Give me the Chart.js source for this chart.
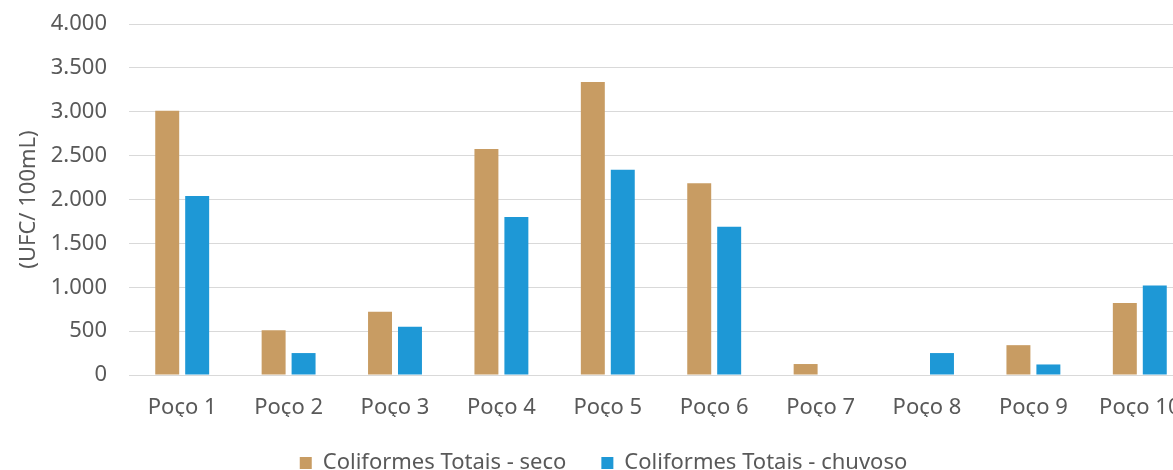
<!DOCTYPE html>
<html>
<head>
<meta charset="utf-8">
<script src="https://cdn.jsdelivr.net/npm/chart.js@4/dist/chart.umd.min.js"></script>
<style>
  html, body { margin: 0; padding: 0; background: #ffffff; overflow: hidden; }
  #wrap { position: relative; width: 1210px; height: 484px; }
</style>
</head>
<body>
<div id="wrap"><canvas id="chart"></canvas></div>
<script>
// Coliformes totais por poço, período seco x chuvoso
const categories = ['Poço 1', 'Poço 2', 'Poço 3', 'Poço 4', 'Poço 5',
                    'Poço 6', 'Poço 7', 'Poço 8', 'Poço 9', 'Poço 10'];
const seriesNames = ['Coliformes Totais - seco', 'Coliformes Totais - chuvoso'];
const seco = [3010, 510, 720, 2575, 3340, 2185, 125, 0, 340, 820];
const chuvoso = [2040, 250, 550, 1800, 2340, 1690, 0, 250, 120, 1020];
const yTickValues = [0, 500, 1000, 1500, 2000, 2500, 3000, 3500, 4000];
const yTickLabels = ['0', '500', '1.000', '1.500', '2.000', '2.500', '3.000', '3.500', '4.000'];
const yAxisTitle = '(UFC/ 100mL)';

const TEXT = '#595959';
const GRID = '#d9d9d9';

Chart.defaults.font.family = "'Noto Sans', 'Open Sans', sans-serif";
Chart.defaults.font.size = 22;
Chart.defaults.color = TEXT;

new Chart(document.getElementById('chart'), {
  type: 'bar',
  data: {
    labels: categories,
    datasets: [
      { label: seriesNames[0], data: seco, backgroundColor: '#c89c63', borderWidth: 0 },
      { label: seriesNames[1], data: chuvoso, backgroundColor: '#1e98d6', borderWidth: 0 }
    ]
  },
  options: {
    responsive: true,
    maintainAspectRatio: false,
    animation: false,
    events: [],
    layout: { padding: { top: 24, right: 17, bottom: 0, left: 14 } },
    datasets: {
      bar: { categoryPercentage: 0.563, barPercentage: 0.8 }
    },
    scales: {
      x: {
        grid: { display: false, drawTicks: false },
        border: { display: true, color: GRID, width: 1 },
        ticks: { padding: 20, maxRotation: 0, autoSkip: false },
        afterFit: (scale) => { scale.height = 42; }
      },
      y: {
        min: 0,
        max: 4000,
        afterBuildTicks: (scale) => { scale.ticks = yTickValues.map(v => ({ value: v })); },
        ticks: {
          padding: 22,
          callback: (value) => {
            const i = yTickValues.indexOf(value);
            return i >= 0 ? yTickLabels[i] : '';
          }
        },
        grid: { color: GRID, lineWidth: 1, drawTicks: false },
        border: { display: false },
        title: {
          display: true,
          text: yAxisTitle,
          padding: { top: 2, bottom: 0 },
          font: { size: 22 }
        },
        afterFit: (scale) => {
          scale.width = 115;
          // keep the plot top/bottom driven by the layout padding only
          scale.paddingTop = 0;
          scale.paddingBottom = 0;
        }
      }
    },
    plugins: {
      tooltip: { enabled: false },
      legend: {
        position: 'bottom',
        labels: {
          boxWidth: 12,
          boxHeight: 12,
          padding: 35,
          font: { size: 22 },
          color: TEXT
        }
      }
    }
  }
});
</script>
</body>
</html>
